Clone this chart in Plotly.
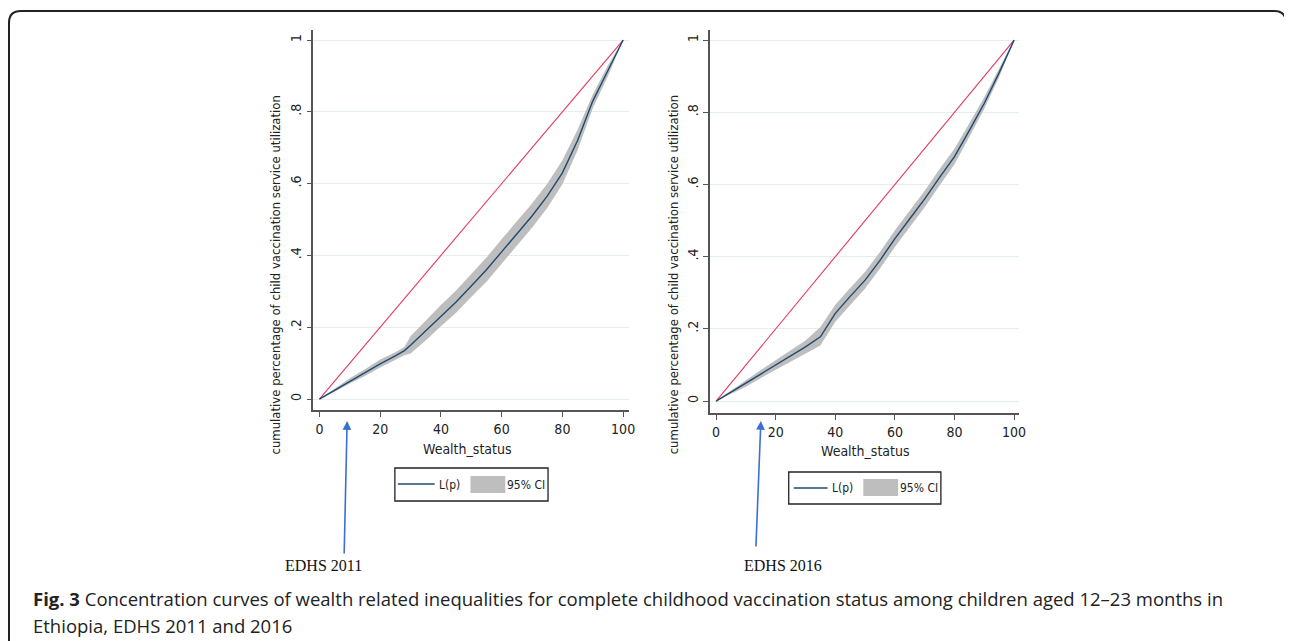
import plotly.graph_objects as go

# page body has an 8px margin: figure sized to fit the window, coordinates given in window pixels
OFF = 8
FW, FH = 1292 - OFF, 641 - OFF

# ---------------- data ----------------
p_2011 = [0, 5, 10, 15, 20, 25, 28, 30, 35, 40, 45, 50, 55, 60, 65, 70, 75, 80, 85, 90, 95, 100]
L_2011 = [0, 0.025, 0.05, 0.073, 0.098, 0.12, 0.135, 0.15, 0.19, 0.232, 0.27, 0.315, 0.36, 0.41,
          0.46, 0.51, 0.565, 0.63, 0.72, 0.83, 0.915, 1.0]
up_2011 = [0, 0.03, 0.058, 0.083, 0.11, 0.13, 0.145, 0.175, 0.218, 0.262, 0.302, 0.347, 0.394, 0.445,
           0.495, 0.545, 0.6, 0.665, 0.75, 0.848, 0.93, 1.0]
lo_2011 = [0, 0.02, 0.043, 0.064, 0.088, 0.11, 0.122, 0.127, 0.163, 0.203, 0.24, 0.284, 0.327, 0.377,
           0.427, 0.477, 0.532, 0.598, 0.693, 0.81, 0.9, 1.0]

p_2016 = [0, 5, 10, 15, 20, 25, 30, 35, 40, 45, 50, 55, 60, 65, 70, 75, 80, 85, 90, 95, 100]
L_2016 = [0, 0.025, 0.049, 0.075, 0.10, 0.125, 0.15, 0.178, 0.243, 0.29, 0.335, 0.39, 0.45, 0.505,
          0.56, 0.62, 0.677, 0.75, 0.825, 0.91, 1.0]
up_2016 = [0, 0.03, 0.058, 0.086, 0.113, 0.14, 0.168, 0.205, 0.267, 0.313, 0.358, 0.413, 0.473, 0.528,
           0.583, 0.643, 0.699, 0.77, 0.842, 0.922, 1.0]
lo_2016 = [0, 0.02, 0.04, 0.064, 0.087, 0.11, 0.132, 0.154, 0.22, 0.267, 0.312, 0.367, 0.427, 0.482,
           0.537, 0.597, 0.656, 0.732, 0.81, 0.898, 1.0]

equality_x = [0, 100]
equality_y = [0, 1]

y_ticks = [0, 0.2, 0.4, 0.6, 0.8, 1]
y_tick_labels = ["0", ".2", ".4", ".6", ".8", "1"]
x_ticks = [0, 20, 40, 60, 80, 100]
x_tick_labels = ["0", "20", "40", "60", "80", "100"]

panel_labels = ["EDHS 2011", "EDHS 2016"]
legend_labels = ["L(p)", "95% CI"]
y_title = "cumulative percentage of child vaccination service utilization"
x_title = "Wealth_status"
caption_line1 = ("<b>Fig. 3</b> Concentration curves of wealth related inequalities for complete childhood "
                 "vaccination status among children aged 12–23 months in")
caption_line2 = "Ethiopia, EDHS 2011 and 2016"

# ---------------- styles ----------------
NAVY = "#1f4a72"
RED = "#e3395f"
BAND = "#bebebe"
GRID = "#e3eeef"
AXIS = "#555555"
NARROW = "Liberation Sans Narrow, DejaVu Sans Condensed, Liberation Sans, Arial"


def px(x):
    return (x - OFF) / FW


def py(y):
    return 1 - (y - OFF) / FH


fig = go.Figure()

panels = [
    dict(p=p_2011, L=L_2011, up=up_2011, lo=lo_2011, xa="x", ya="y"),
    dict(p=p_2016, L=L_2016, up=up_2016, lo=lo_2016, xa="x2", ya="y2"),
]

for pn in panels:
    fig.add_trace(go.Scatter(x=pn["p"], y=pn["lo"], mode="lines", line=dict(width=0, color=BAND),
                             showlegend=False, hoverinfo="skip", xaxis=pn["xa"], yaxis=pn["ya"]))
    fig.add_trace(go.Scatter(x=pn["p"], y=pn["up"], mode="lines", line=dict(width=0, color=BAND),
                             fill="tonexty", fillcolor=BAND, name="95% CI", showlegend=False,
                             xaxis=pn["xa"], yaxis=pn["ya"]))
    fig.add_trace(go.Scatter(x=equality_x, y=equality_y, mode="lines", line=dict(width=1.1, color=RED),
                             showlegend=False, xaxis=pn["xa"], yaxis=pn["ya"]))
    fig.add_trace(go.Scatter(x=pn["p"], y=pn["L"], mode="lines", line=dict(width=1.4, color=NAVY),
                             name="L(p)", showlegend=False, xaxis=pn["xa"], yaxis=pn["ya"]))

xaxis_common = dict(range=[-2, 101.8], tickvals=x_ticks, ticktext=x_tick_labels, showgrid=False,
                    zeroline=False, showline=True, linecolor=AXIS, linewidth=1.5, ticks="outside",
                    ticklen=5, tickcolor=AXIS, tickwidth=1.2,
                    tickfont=dict(family=NARROW, size=14, color="#222"))
yaxis_common = dict(tickvals=y_ticks, ticktext=y_tick_labels, showgrid=True, gridcolor=GRID, gridwidth=1,
                    zeroline=False, showline=True, linecolor=AXIS, linewidth=1.5, ticks="outside",
                    ticklen=5, tickcolor=AXIS, tickwidth=1.2, tickangle=-90,
                    tickfont=dict(family=NARROW, size=14, color="#222"))

fig.update_layout(
    width=FW, height=FH, autosize=False,
    margin=dict(l=0, r=0, t=0, b=0),
    paper_bgcolor="white", plot_bgcolor="white",
    showlegend=False,
    xaxis=dict(domain=[px(315), px(632)], anchor="y", **xaxis_common),
    yaxis=dict(domain=[py(410), py(30)], anchor="x", range=[-0.0306, 1.028], **yaxis_common),
    xaxis2=dict(domain=[px(714), px(1025)], anchor="y2", **xaxis_common),
    yaxis2=dict(domain=[py(413), py(30)], anchor="x2", range=[-0.033, 1.028], **yaxis_common),
)

annotations = []
shapes = []
# y titles
for xc in [276, 677]:
    annotations.append(dict(xref="paper", yref="paper", x=px(xc), y=py(275), text=y_title,
                            textangle=-90, showarrow=False, xanchor="center", yanchor="middle",
                            font=dict(family=NARROW, size=13, color="#222")))
# x titles
for xc, yc in [(470, 449), (870, 451)]:
    annotations.append(dict(xref="paper", yref="paper", x=px(xc), y=py(yc), text=x_title,
                            showarrow=False, xanchor="center", yanchor="middle",
                            font=dict(family=NARROW, size=14, color="#222")))

# legends (box, line sample, band sample, labels)
legend_geo = [
    dict(box=(397, 468, 551, 501), line=(400, 437, 484), t1=452, rect=(473, 476, 508, 493), t2=529),
    dict(box=(793, 472, 946, 504), line=(798, 832, 488), t1=847, rect=(868, 479, 903, 496), t2=924),
]
for g in legend_geo:
    bx0, by0, bx1, by1 = g["box"]
    shapes.append(dict(type="rect", xref="paper", yref="paper", x0=px(bx0), x1=px(bx1), y0=py(by1),
                       y1=py(by0), line=dict(color="#222", width=1.3), fillcolor="white"))
    lx0, lx1, ly = g["line"]
    shapes.append(dict(type="line", xref="paper", yref="paper", x0=px(lx0), x1=px(lx1), y0=py(ly),
                       y1=py(ly), line=dict(color=NAVY, width=1.4)))
    rx0, ry0, rx1, ry1 = g["rect"]
    shapes.append(dict(type="rect", xref="paper", yref="paper", x0=px(rx0), x1=px(rx1), y0=py(ry1),
                       y1=py(ry0), line=dict(width=0), fillcolor=BAND))
    yc = (by0 + by1) / 2
    for lab, tx in zip(legend_labels, [g["t1"], g["t2"]]):
        annotations.append(dict(xref="paper", yref="paper", x=px(tx), y=py(yc), text=lab,
                                showarrow=False, xanchor="center", yanchor="middle",
                                font=dict(family=NARROW, size=12, color="#222")))

# arrows
for (xh, yh, xt, yt) in [(349, 421, 346, 555), (765, 421, 760, 548)]:
    annotations.append(dict(xref="paper", yref="paper", x=px(xh), y=py(yh), ax=xt - xh, ay=yt - yh,
                            text="", showarrow=True, arrowhead=2, arrowsize=1.1, arrowwidth=1.6,
                            arrowcolor="#3b6fd6"))
# panel labels
for lab, xc in zip(panel_labels, [325, 787]):
    annotations.append(dict(xref="paper", yref="paper", x=px(xc), y=py(565), text=lab,
                            showarrow=False, xanchor="center", yanchor="middle",
                            font=dict(family="Liberation Serif, Times New Roman, serif", size=16,
                                      color="#111")))
# caption
for txt, yc in [(caption_line1, 598), (caption_line2, 625)]:
    annotations.append(dict(xref="paper", yref="paper", x=px(31), y=py(yc), text=txt, align="left",
                            showarrow=False, xanchor="left", yanchor="middle",
                            font=dict(family="Open Sans, Noto Sans, sans-serif", size=18.5, color="#222")))

# rounded frame
x0, yt, r, x1 = 9, 11, 12, 1293
path = (f"M {px(x0)},{py(660)} L {px(x0)},{py(yt + r)} Q {px(x0)},{py(yt)} {px(x0 + r)},{py(yt)} "
        f"L {px(x1 - r)},{py(yt)} Q {px(x1)},{py(yt)} {px(x1)},{py(yt + r)} L {px(x1)},{py(660)}")
shapes.append(dict(type="path", path=path, xref="paper", yref="paper", line=dict(color="#222", width=2)))

fig.update_layout(annotations=annotations, shapes=shapes)

fig.write_html("out.html")
